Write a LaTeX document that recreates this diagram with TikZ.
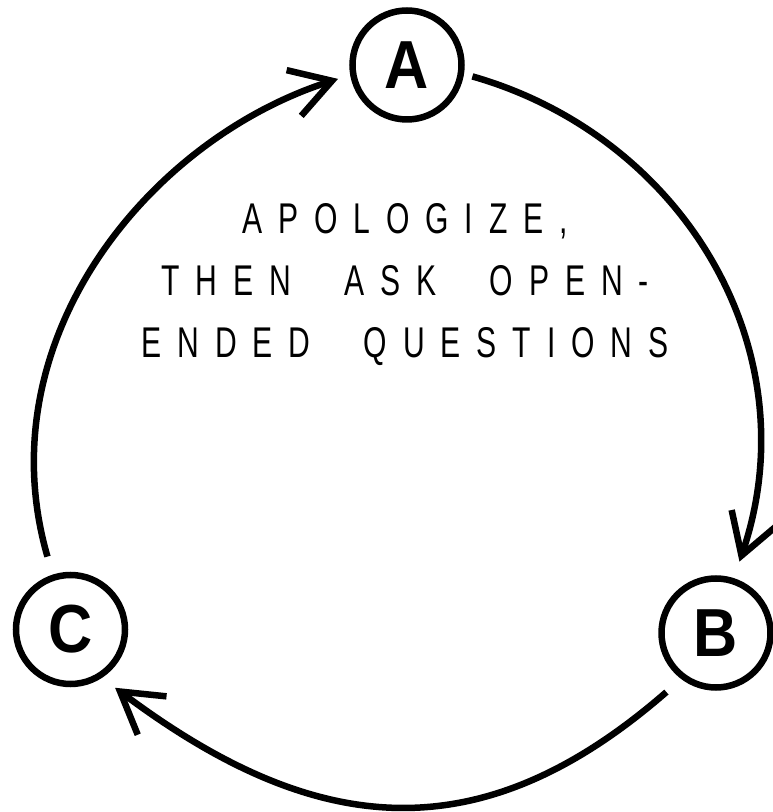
\documentclass[tikz,border=0pt]{standalone}
\usepackage{fontspec}
\setmainfont{Liberation Sans}
\newfontfamily\labfont[FakeStretch=0.7, LetterSpace=37, WordSpace=2.2]{Liberation Sans}
\newfontfamily\stagefont[FakeStretch=0.9]{Liberation Sans}
\usetikzlibrary{arrows.meta,calc}
\begin{document}
\begin{tikzpicture}[x=1pt,y=1pt,
  stage/.style={circle, draw, line width=6.5pt, minimum size=109pt, inner sep=0pt,
    font=\stagefont\bfseries\fontsize{68}{68}\selectfont},
  flow/.style={line width=6.5pt, -{Straight Barb[length=40pt,width=48pt]}},
  caption/.style={align=center, font=\labfont\fontsize{43}{62}\selectfont}]
\useasboundingbox (0,0) rectangle (772,812);
\node[stage] (A) at (407,747) {A};
\node[stage] (B) at (716,179) {B};
\node[stage] (C) at (70.5,182.5) {C};
\node[caption] (T) at (405,527) {APOLOGIZE,\\THEN ASK OPEN-\\ENDED QUESTIONS};
\draw[flow, shorten <=8.7pt, shorten >=17.4pt] (A.-9.6) .. controls (683.8,675.3) and (811.2,461.2) .. (B.72.7);
\draw[flow, shorten <=19.7pt, shorten >=16.4pt] (B.233.4) .. controls (478.5,-43.7) and (313.8,-24.8) .. (C.-57.7);
\draw[flow, shorten <=18.7pt, shorten >=12.7pt] (C.108) .. controls (-15,471) and (147.8,672.2) .. (A.190.7);
\end{tikzpicture}
\end{document}
